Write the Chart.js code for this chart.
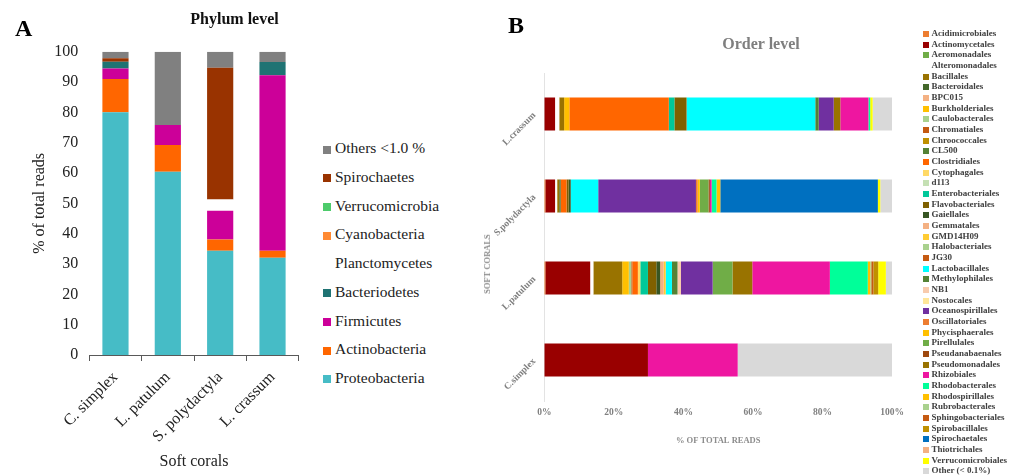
<!DOCTYPE html>
<html>
<head>
<meta charset="utf-8">
<title>Soft coral bacterial communities</title>
<script src="https://cdn.jsdelivr.net/npm/chart.js@4.4.1/dist/chart.umd.min.js"></script>
<style>
  body { margin: 0; background: #fff; }
  #page { position: relative; width: 1028px; height: 475px; overflow: hidden; font-family: "Liberation Serif", "Times New Roman", serif; }
  .box { position: absolute; top: 0; height: 475px; }
  .txt { position: absolute; white-space: nowrap; }
  .item { position: absolute; white-space: nowrap; }
  .item span.sw { display: inline-block; vertical-align: middle; }
</style>
</head>
<body>
<div id="page">
  <div class="box" style="left:0;width:310px"><canvas id="phylumChart"></canvas></div>
  <div class="box" style="left:490px;width:420px"><canvas id="orderChart"></canvas></div>

  <div class="txt" style="left:15px;top:16px;font:bold 24px/24px 'Liberation Serif';color:#000">A</div>
  <div class="txt" style="left:508px;top:13px;font:bold 24px/24px 'Liberation Serif';color:#000">B</div>
  <div class="txt" style="left:234.5px;top:9px;transform:translateX(-50%);font:bold 16px/20px 'Liberation Serif';color:#111">Phylum level</div>
  <div class="txt" style="left:761px;top:34px;transform:translateX(-50%);font:bold 16px/20px 'Liberation Serif';color:#7f7f7f">Order level</div>
  <div class="txt" style="left:487px;top:264px;transform:translate(-50%,-50%) rotate(-90deg);font:bold 8.5px/10px 'Liberation Serif';color:#8c8c8c">SOFT CORALS</div>

  <div id="phylumLegend"></div>
  <div id="orderLegend"></div>
</div>

<script>
// Panel A - phylum level (% of total reads)
const corals = ['C. simplex', 'L. patulum', 'S. polydactyla', 'L. crassum'];

const proteobacteria  = [80.0, 60.4, 34.4, 32.1];
const actinobacteria  = [11.0,  8.8,  3.7,  2.3];
const firmicutes      = [ 3.5,  6.6,  9.5, 57.8];
const bacteriodetes   = [ 2.2,  0,    0,    4.4];
const planctomycetes  = [ 0,    0,    3.7,  0  ];
const cyanobacteria   = [ 0,    0,    0,    0  ];
const verrucomicrobia = [ 0,    0,    0,    0  ];
const spirochaetes    = [ 1.1,  0,   43.4,  0  ];
const othersPhylum    = [ 2.2, 24.2,  5.3,  3.4];

const phylumNames = ['Proteobacteria', 'Actinobacteria', 'Firmicutes', 'Bacteriodetes', 'Planctomycetes',
    'Cyanobacteria', 'Verrucomicrobia', 'Spirochaetes', 'Others <1.0 %'];
const phylumValues = [proteobacteria, actinobacteria, firmicutes, bacteriodetes, planctomycetes,
    cyanobacteria, verrucomicrobia, spirochaetes, othersPhylum];
const phylumColors = ['#46bcc6', '#ff6600', '#cc0099', '#1f7373', '#ffffff',
    '#ff8a33', '#4dcb6b', '#993300', '#808080'];

// Panel B - order level, one value per order for each coral
const coralsB = ['L.crassum', 'S.polydactyla', 'L.patulum', 'C.simplex'];

const orders = ['Acidimicrobiales', 'Actinomycetales', 'Aeromonadales', 'Alteromonadales', 'Bacillales',
    'Bacteroidales', 'BPC015', 'Burkholderiales', 'Caulobacterales', 'Chromatiales',
    'Chroococcales', 'CL500', 'Clostridiales', 'Cytophagales', 'd113',
    'Enterobacteriales', 'Flavobacteriales', 'Gaiellales', 'Gemmatales', 'GMD14H09',
    'Halobacteriales', 'JG30', 'Lactobacillales', 'Methylophilales', 'NB1',
    'Nostocales', 'Oceanospirillales', 'Oscillatoriales', 'Phycisphaerales', 'Pirellulales',
    'Pseudanabaenales', 'Pseudomonadales', 'Rhizobiales', 'Rhodobacterales', 'Rhodospirillales',
    'Rubrobacterales', 'Sphingobacteriales', 'Spirobacillales', 'Spirochaetales', 'Thiotrichales',
    'Verrucomicrobiales', 'Other (< 0.1%)'];

const orderColors = ['#ed7d31', '#990000', '#70ad47', '#ffffff', '#997300',
    '#43682b', '#f4b183', '#ffc000', '#a9d18e', '#c55a11',
    '#bf9000', '#548235', '#ff6600', '#ffd966', '#c5e0b4',
    '#00c89a', '#7f6000', '#375623', '#f4b183', '#ffcc33',
    '#a9d18e', '#c55a11', '#00ffff', '#548235', '#f8cbad',
    '#ffe699', '#7030a0', '#ed7d31', '#ffc000', '#70ad47',
    '#9e480e', '#997300', '#ee16a0', '#00ff99', '#ffc000',
    '#a9d18e', '#c55a11', '#bf9000', '#0070c0', '#f4b183',
    '#ffff00', '#d9d9d9'];

const lCrassum = [
    0, 3.1, 0, 1.2, 1.4, 0, 0, 1.5, 0, 0,
    0, 0, 28.6, 0, 0, 1.6, 3.5, 0, 0, 0,
    0, 0, 37.0, 1.0, 0, 0, 4.3, 0, 0, 0,
    0, 1.9, 8.1, 0.5, 0, 0, 0, 0, 0, 0,
    0.7, 5.6];
const sPolydactyla = [
    0.3, 2.8, 0, 0.6, 0.6, 0.4, 0, 0, 0, 0,
    0, 0, 1.7, 0, 0, 0, 0.6, 0.6, 0, 0,
    0, 0, 7.9, 0, 0, 0, 28.1, 0.5, 0.6, 2.5,
    0.4, 0, 0.5, 1.4, 1.1, 0, 0, 0, 45.3, 0,
    0.7, 3.4];
const lPatulum = [
    0.3, 12.9, 0, 0.9, 8.3, 0, 0, 1.9, 0.7, 0.3,
    0, 0, 1.6, 0.7, 0, 2.2, 2.4, 1.1, 1.0, 0.6,
    0, 0, 1.8, 1.6, 1.0, 0, 9.1, 0, 0, 5.7,
    0, 5.7, 22.3, 10.9, 0.7, 0.3, 0.6, 1.4, 0, 0,
    2.2, 1.8];
const cSimplex = [
    0, 29.8, 0, 0, 0, 0, 0, 0, 0, 0,
    0, 0, 0, 0, 0, 0, 0, 0, 0, 0,
    0, 0, 0, 0, 0, 0, 0, 0, 0, 0,
    0, 0, 25.8, 0, 0, 0, 0, 0, 0, 0,
    0, 44.4];

const percentTicks = [0, 20, 40, 60, 80, 100];

const serif = "'Liberation Serif', 'Times New Roman', serif";
Chart.defaults.font.family = serif;

// Phylum chart (vertical stacked bars)
new Chart(document.getElementById('phylumChart'), {
    type: 'bar',
    data: {
        labels: corals,
        datasets: phylumNames.map((name, i) => ({
            label: name,
            data: phylumValues[i],
            backgroundColor: phylumColors[i],
            borderWidth: 0,
            barPercentage: 0.5,
            categoryPercentage: 1
        }))
    },
    options: {
        responsive: true,
        maintainAspectRatio: false,
        animation: false,
        layout: { padding: { top: 51.7, right: 11.3, bottom: 0, left: 0 } },
        plugins: { legend: { display: false }, tooltip: { enabled: false } },
        scales: {
            x: {
                stacked: true,
                grid: { display: true, drawOnChartArea: false, drawTicks: true, tickLength: 6, color: '#595959' },
                border: { display: true, color: '#595959', width: 1 },
                ticks: { color: '#222', font: { size: 16 }, minRotation: 45, maxRotation: 45, padding: 7 },
                title: { display: true, text: 'Soft corals', color: '#222', font: { size: 16 }, padding: { top: 0, bottom: 3.4 } },
                afterFit: s => { s.height = 120; }
            },
            y: {
                stacked: true,
                min: 0,
                max: 100,
                grid: { display: false, drawTicks: false },
                border: { display: false },
                ticks: { stepSize: 10, color: '#222', font: { size: 16 }, padding: 11 },
                title: { display: true, text: '% of total reads', color: '#222', font: { size: 16 }, padding: { top: 30.5, bottom: 0 } },
                afterFit: s => { s.width = 89.3; }
            }
        }
    }
});

// Order chart (horizontal stacked bars)
const sampleOrders = [lCrassum, sPolydactyla, lPatulum, cSimplex];

new Chart(document.getElementById('orderChart'), {
    type: 'bar',
    data: {
        labels: coralsB,
        datasets: orders.map((name, i) => ({
            label: name,
            data: sampleOrders.map(s => s[i]),
            backgroundColor: orderColors[i],
            borderWidth: 0,
            barPercentage: 0.4,
            categoryPercentage: 1
        }))
    },
    options: {
        indexAxis: 'y',
        responsive: true,
        maintainAspectRatio: false,
        animation: false,
        layout: { padding: { top: 73, right: 16.3, bottom: 0, left: 0 } },
        plugins: { legend: { display: false }, tooltip: { enabled: false } },
        scales: {
            x: {
                stacked: true,
                min: 0,
                max: 100,
                afterBuildTicks: s => { s.ticks = percentTicks.map(v => ({ value: v })); },
                grid: { display: false, drawTicks: false },
                border: { display: false },
                ticks: { color: '#7f7f7f', font: { size: 9.5, weight: 'bold' }, padding: 6, callback: v => v + '%' },
                title: { display: true, text: '% OF TOTAL READS', color: '#8c8c8c', font: { size: 8.5, weight: 'bold' }, padding: { top: 0, bottom: 29.5 } },
                afterFit: s => { s.height = 74; }
            },
            y: {
                stacked: true,
                grid: { display: false, drawTicks: false },
                border: { display: true, color: '#e3e3e3', width: 1 },
                ticks: { color: '#7f7f7f', font: { size: 9.5, weight: 'bold' }, padding: 10, minRotation: 45, maxRotation: 45 },
                afterFit: s => { s.width = 54.3; }
            }
        }
    }
});

// Legends (top of list = top of stack)
function buildLegend(el, names, colors, opts) {
    names.forEach((name, k) => {
        const item = document.createElement('div');
        item.className = 'item';
        item.style.left = opts.left + 'px';
        item.style.top = (opts.top + k * opts.step) + 'px';
        item.style.font = opts.font;
        item.style.color = opts.color;
        item.innerHTML = `<span class="sw" style="width:${opts.box}px;height:${opts.box}px;background:${colors[k]};margin-right:${opts.gap}px"></span>${name}`;
        el.appendChild(item);
    });
}

buildLegend(document.getElementById('phylumLegend'),
    phylumNames.slice().reverse(), phylumColors.slice().reverse(),
    { left: 323, top: 138.3, step: 28.7, box: 8, gap: 4, font: "15.5px/20px 'Liberation Serif'", color: '#222' });

buildLegend(document.getElementById('orderLegend'), orders, orderColors,
    { left: 923, top: 28, step: 10.67, box: 6, gap: 2.5, font: "bold 9px/10.67px 'Liberation Serif'", color: '#404040' });
</script>
</body>
</html>
